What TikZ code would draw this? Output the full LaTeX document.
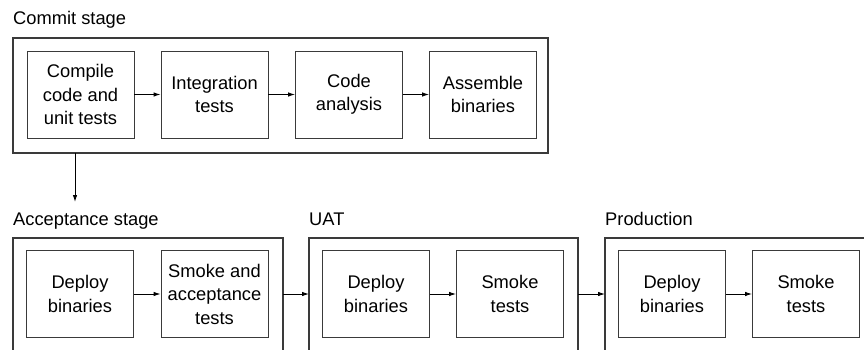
\documentclass[tikz,border=0pt]{standalone}
\usepackage{fontspec}
\setmainfont{Liberation Sans}
\usetikzlibrary{arrows.meta}
\definecolor{linec}{HTML}{3A3A3A}
\tikzset{
  stepbox/.style={draw=linec, line width=0.9pt, minimum width=107pt, minimum height=87pt,
    inner sep=0pt, align=center, font=\fontsize{18.3}{23.5}\selectfont},
  frame/.style={draw=linec, line width=1.1pt},
  stagelabel/.style={anchor=base west, inner sep=0pt, font=\fontsize{18.3}{22}\selectfont},
  flow/.style={draw=black, line width=0.9pt, -{Latex[length=7pt,width=4.5pt]}}
}
\begin{document}
\begin{tikzpicture}[x=1pt,y=-1pt]
\useasboundingbox (0,0) rectangle (864,350);
% Commit stage
\node[stagelabel] (lcommit) at (13,25) {Commit stage};
\draw[frame] (13,38) rectangle (548,153);
\node[stepbox] (compile) at (80.5,94.5) {Compile\\code and\\unit tests};
\node[stepbox] (integ) at (214.5,94.5) {Integration\\tests};
\node[stepbox] (analysis) at (349,94.5) {Code\\analysis};
\node[stepbox] (assemble) at (483,94.5) {Assemble\\binaries};
\draw[flow] (compile) -- (integ);
\draw[flow] (integ) -- (analysis);
\draw[flow] (analysis) -- (assemble);
\coordinate (cbot) at (75,153);
\coordinate (atop) at (75,202);
\draw[flow] (cbot) -- (atop);
% Acceptance stage
\node[stagelabel] (lacc) at (13,225) {Acceptance stage};
\draw[frame] (13,350) -- (13,238) -- (283,238) -- (283,350);
\node[stepbox] (adeploy) at (80,294) {Deploy\\binaries};
\node[stepbox] (asmoke) at (214.5,294) {Smoke and\\acceptance\\tests};
\draw[flow] (adeploy) -- (asmoke);
% UAT
\node[stagelabel] (luat) at (309,225) {UAT};
\draw[frame] (309,350) -- (309,238) -- (578,238) -- (578,350);
\node[stepbox] (udeploy) at (376,294) {Deploy\\binaries};
\node[stepbox] (usmoke) at (510,294) {Smoke\\tests};
\draw[flow] (udeploy) -- (usmoke);
% Production
\node[stagelabel] (lprod) at (605,225) {Production};
\draw[frame] (605,350) -- (605,238) -- (870,238);
\node[stepbox] (pdeploy) at (672,294) {Deploy\\binaries};
\node[stepbox] (psmoke) at (806,294) {Smoke\\tests};
\draw[flow] (pdeploy) -- (psmoke);
% stage connectors
\coordinate (accR) at (283,294);
\coordinate (uatL) at (309,294);
\coordinate (uatR) at (578,294);
\coordinate (prodL) at (605,294);
\draw[flow] (accR) -- (uatL);
\draw[flow] (uatR) -- (prodL);
\end{tikzpicture}
\end{document}
